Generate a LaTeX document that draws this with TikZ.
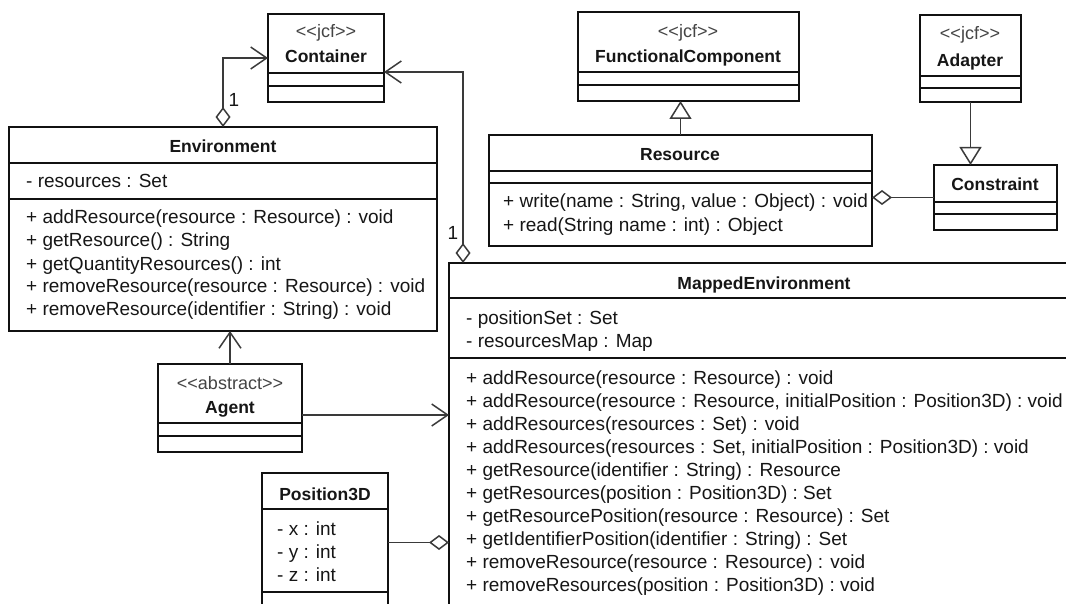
\documentclass[tikz,border=0pt]{standalone}
\usepackage{fontspec}
\setsansfont{Liberation Sans}
\usetikzlibrary{arrows.meta}
\definecolor{BoxLine}{HTML}{111111}
\definecolor{LinkGray}{HTML}{3A3A3A}
\definecolor{TextDark}{HTML}{161616}
\definecolor{StereoGray}{HTML}{444444}
\newcommand{\umlstereo}[1]{<\kern0pt<#1>\kern0pt>}

\begin{document}
\begin{tikzpicture}[x=1pt,y=-1pt,
  every node/.style={font=\sffamily\fontsize{19}{22}\selectfont, text=TextDark, inner sep=0pt},
  classbox/.style={draw=BoxLine, line width=2.8pt, fill=white, anchor=north west, outer sep=0pt},
  divider/.style={draw=BoxLine, line width=1.8pt},
  member/.style={anchor=base west},
  classname/.style={anchor=base, font=\sffamily\bfseries\fontsize{17.5}{21}\selectfont},
  stereotype/.style={anchor=base, text=StereoGray, font=\sffamily\fontsize{18}{21}\selectfont},
  link/.style={draw=LinkGray, line width=1.5pt},
  assoc/.style={link, -{Straight Barb[length=16pt,width=22pt]}},
  aggr/.style={link, {Diamond[fill=white,length=20pt,width=15pt]}-},
  aggrassoc/.style={link, {Diamond[fill=white,length=20pt,width=15pt]}-{Straight Barb[length=16pt,width=22pt]}},
  inherit/.style={link, -{Triangle[fill=white,length=18pt,width=22pt]}}]
  \useasboundingbox (0,0) rectangle (1066,604);
  \clip (0,0) rectangle (1066,604);

  \node[classbox, minimum width=116pt, minimum height=88pt] (cont) at (268,14) {};
  \node[stereotype] (contst) at (326,38) {\umlstereo{jcf}};
  \node[classname] (contnm) at (326,63) {Container};
  \draw[divider] (268,73) -- (384,73);
  \draw[divider] (268,86) -- (384,86);

  \node[classbox, minimum width=428pt, minimum height=204pt] (env) at (9,127) {};
  \node[classname] (envnm) at (223,153) {Environment};
  \draw[divider] (9,163) -- (437,163);
  \node[member] (enva1) at (26,188) {- resources : Set};
  \draw[divider] (9,199) -- (437,199);
  \foreach \m [count=\i] in {+ addResource(resource : Resource) : void,
      + getResource() : String, + getQuantityResources() : int,
      + removeResource(resource : Resource) : void,
      + removeResource(identifier : String) : void}
    \node[member] (envm\i) at (26,{224+23*(\i-1)}) {\m};

  \node[classbox, minimum width=221pt, minimum height=89pt] (fc) at (578,12) {};
  \node[stereotype] (fcst) at (688,38) {\umlstereo{jcf}};
  \node[classname] (fcnm) at (688,63) {FunctionalComponent};
  \draw[divider] (578,72) -- (799,72);
  \draw[divider] (578,85) -- (799,85);

  \node[classbox, minimum width=383pt, minimum height=111pt] (res) at (489,135) {};
  \node[classname] (resnm) at (680,161) {Resource};
  \draw[divider] (489,171) -- (872,171);
  \draw[divider] (489,183) -- (872,183);
  \node[member] (resm1) at (503,208) {+ write(name : String, value : Object) : void};
  \node[member] (resm2) at (503,232) {+ read(String name : int) : Object};

  \node[classbox, minimum width=101pt, minimum height=87pt] (adapt) at (920,15) {};
  \node[stereotype] (adaptst) at (970,40) {\umlstereo{jcf}};
  \node[classname] (adaptnm) at (970,67) {Adapter};
  \draw[divider] (920,76) -- (1021,76);
  \draw[divider] (920,88) -- (1021,88);

  \node[classbox, minimum width=123pt, minimum height=65pt] (cons) at (934,165) {};
  \node[classname] (consnm) at (995,191) {Constraint};
  \draw[divider] (934,202) -- (1057,202);
  \draw[divider] (934,214) -- (1057,214);

  \node[classbox, minimum width=631pt, minimum height=360pt] (menv) at (449,263) {};
  \node[classname] (menvnm) at (764,289) {MappedEnvironment};
  \draw[divider] (449,298) -- (1080,298);
  \node[member] (menva1) at (466,324) {- positionSet : Set};
  \node[member] (menva2) at (466,347) {- resourcesMap : Map};
  \draw[divider] (449,358) -- (1080,358);
  \foreach \m [count=\i] in {+ addResource(resource : Resource) : void,
      {+ addResource(resource : Resource, initialPosition : Position3D) : void},
      + addResources(resources : Set) : void,
      {+ addResources(resources : Set, initialPosition : Position3D) : void},
      + getResource(identifier : String) : Resource,
      + getResources(position : Position3D) : Set,
      + getResourcePosition(resource : Resource) : Set,
      + getIdentifierPosition(identifier : String) : Set,
      + removeResource(resource : Resource) : void,
      + removeResources(position : Position3D) : void}
    \node[member] (menvm\i) at (466,{384+23*(\i-1)}) {\m};

  \node[classbox, minimum width=144pt, minimum height=88pt] (agent) at (158,364) {};
  \node[stereotype] (agentst) at (230,389) {\umlstereo{abstract}};
  \node[classname] (agentnm) at (230,413) {Agent};
  \draw[divider] (158,423) -- (302,423);
  \draw[divider] (158,436) -- (302,436);

  \node[classbox, minimum width=126pt, minimum height=139pt] (pos) at (262,473) {};
  \node[classname] (posnm) at (325,500) {Position3D};
  \draw[divider] (262,509) -- (388,509);
  \foreach \a [count=\i] in {- x : int, - y : int, - z : int}
    \node[member] (posa\i) at (277,{535+23*(\i-1)}) {\a};
  \draw[divider] (262,592) -- (388,592);

  \draw[aggrassoc] (env.north) |- (cont.west);
  \node (envmult) at (234,100) {1};
  \draw[aggrassoc] ([xshift=14pt]menv.north west) |- ([yshift=-14pt]cont.east);
  \node (menvmult) at (453,233) {1};
  \draw[inherit] (res.north) -- (res.north |- fc.south);
  \draw[inherit] (adapt.south) -- (adapt.south |- cons.north);
  \draw[aggr] (cons.west -| res.east) -- (cons.west);
  \draw[assoc] (agent.north) -- (agent.north |- env.south);
  \draw[assoc] ([yshift=-7pt]agent.east) -- ([yshift=-7pt]agent.east -| menv.west);
  \draw[aggr] (pos.east -| menv.west) -- (pos.east);
\end{tikzpicture}
\end{document}
